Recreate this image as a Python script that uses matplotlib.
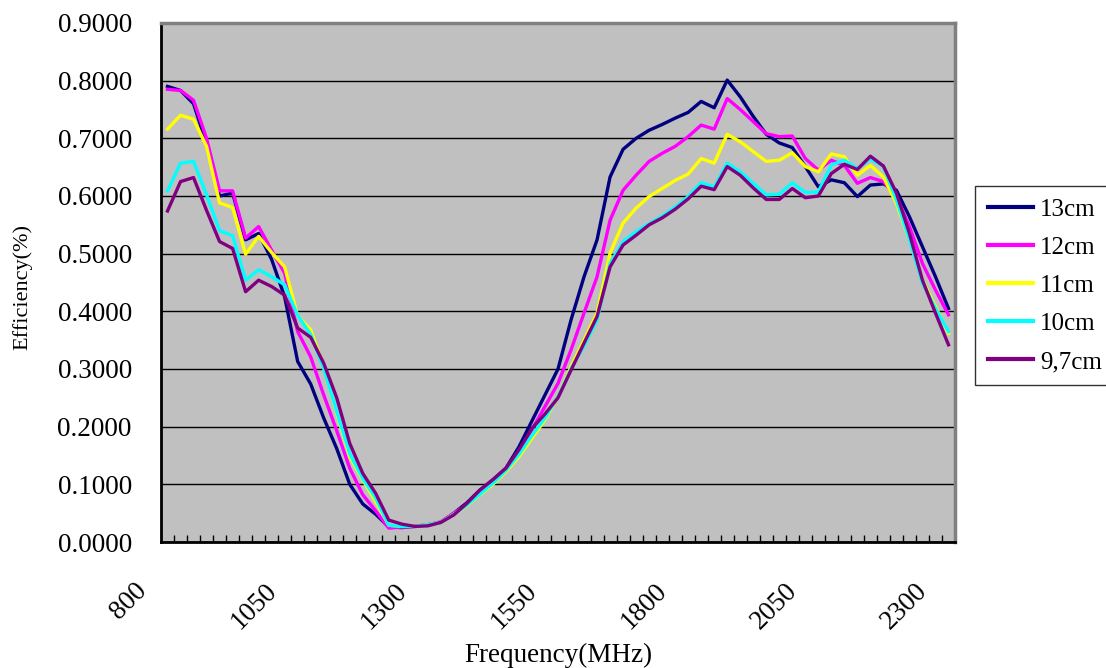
import matplotlib
matplotlib.use("Agg")
import matplotlib.pyplot as plt
import matplotlib.transforms as mtransforms
import numpy as np

plt.rcParams['font.family'] = ['Liberation Serif', 'DejaVu Serif']

# frequency categories (MHz), one every 25 MHz
freq = list(range(800, 2301, 25))
tick_freq = [800, 1050, 1300, 1550, 1800, 2050, 2300]

eff_13 = [0.790, 0.783, 0.760, 0.690, 0.600, 0.605, 0.524, 0.535, 0.490, 0.425,
          0.313, 0.274, 0.215, 0.162, 0.100, 0.066, 0.048, 0.026, 0.025, 0.027,
          0.030, 0.034, 0.050, 0.068, 0.090, 0.108, 0.128, 0.165, 0.210, 0.255,
          0.300, 0.385, 0.460, 0.524, 0.633, 0.681, 0.700, 0.714, 0.724, 0.735,
          0.745, 0.764, 0.753, 0.801, 0.772, 0.738, 0.707, 0.692, 0.684, 0.651,
          0.616, 0.628, 0.623, 0.599, 0.619, 0.621, 0.610, 0.564, 0.512, 0.460, 0.405]
eff_12 = [0.785, 0.783, 0.766, 0.700, 0.609, 0.609, 0.527, 0.547, 0.506, 0.466,
          0.365, 0.321, 0.255, 0.193, 0.128, 0.082, 0.054, 0.024, 0.026, 0.027,
          0.030, 0.035, 0.050, 0.065, 0.085, 0.105, 0.125, 0.155, 0.195, 0.235,
          0.275, 0.333, 0.397, 0.460, 0.558, 0.610, 0.636, 0.660, 0.674, 0.686,
          0.703, 0.723, 0.716, 0.769, 0.750, 0.729, 0.708, 0.703, 0.704, 0.665,
          0.645, 0.662, 0.653, 0.622, 0.632, 0.625, 0.598, 0.547, 0.483, 0.437, 0.394]
eff_11 = [0.716, 0.740, 0.733, 0.686, 0.588, 0.580, 0.499, 0.530, 0.502, 0.477,
          0.392, 0.368, 0.304, 0.223, 0.148, 0.108, 0.070, 0.029, 0.027, 0.027,
          0.030, 0.034, 0.048, 0.063, 0.082, 0.100, 0.122, 0.148, 0.180, 0.212,
          0.252, 0.304, 0.350, 0.397, 0.501, 0.553, 0.579, 0.599, 0.613, 0.627,
          0.638, 0.665, 0.657, 0.707, 0.694, 0.677, 0.660, 0.662, 0.675, 0.651,
          0.642, 0.673, 0.668, 0.636, 0.653, 0.633, 0.587, 0.524, 0.454, 0.408, 0.362]
eff_10 = [0.609, 0.657, 0.660, 0.602, 0.540, 0.531, 0.454, 0.472, 0.460, 0.446,
          0.393, 0.360, 0.301, 0.226, 0.153, 0.110, 0.076, 0.029, 0.027, 0.027,
          0.030, 0.034, 0.048, 0.064, 0.083, 0.102, 0.124, 0.152, 0.185, 0.215,
          0.252, 0.300, 0.340, 0.385, 0.483, 0.521, 0.538, 0.552, 0.565, 0.581,
          0.599, 0.623, 0.616, 0.657, 0.642, 0.622, 0.602, 0.603, 0.623, 0.606,
          0.607, 0.654, 0.662, 0.648, 0.664, 0.651, 0.593, 0.524, 0.449, 0.405, 0.365]
eff_97 = [0.574, 0.625, 0.632, 0.575, 0.521, 0.509, 0.434, 0.454, 0.443, 0.428,
          0.371, 0.355, 0.310, 0.250, 0.171, 0.119, 0.084, 0.038, 0.031, 0.027,
          0.028, 0.034, 0.047, 0.067, 0.090, 0.108, 0.128, 0.160, 0.197, 0.222,
          0.250, 0.298, 0.345, 0.391, 0.477, 0.515, 0.532, 0.550, 0.562, 0.577,
          0.595, 0.617, 0.611, 0.651, 0.636, 0.614, 0.594, 0.594, 0.613, 0.597,
          0.600, 0.639, 0.655, 0.646, 0.669, 0.652, 0.605, 0.535, 0.454, 0.397, 0.342]

names = ['13cm', '12cm', '11cm', '10cm', '9,7cm']
colors = ['#000080', '#FF00FF', '#FFFF00', '#00FFFF', '#800080']
series = [eff_13, eff_12, eff_11, eff_10, eff_97]

fig = plt.figure(figsize=(11.06, 6.68), dpi=100)
ax = fig.add_axes([161 / 1106, 1 - 542 / 668, 794 / 1106, 519 / 668])
ax.set_facecolor('#C0C0C0')

for vals, name, c in zip(series, names, colors):
    ax.plot(freq, vals, color=c, lw=2.4, label=name, zorder=3)

ax.set_xlim(787.5, 2312.5)
ax.set_ylim(0, 0.9)
ax.set_yticks(np.arange(0, 0.91, 0.1))
ax.set_yticklabels(['%.4f' % v for v in np.arange(0, 0.91, 0.1)], fontsize=19.5)
ax.grid(axis='y', color='black', lw=1)
ax.set_axisbelow(True)

ax.set_xticks(tick_freq)
ax.set_xticklabels([str(f) for f in tick_freq], fontsize=19.5, rotation=45,
                   ha='right', va='top')
ax.set_xticks(np.arange(812.5, 2300, 25), minor=True)
ax.tick_params(axis='x', which='major', length=0, pad=26)
ax.tick_params(axis='x', which='minor', direction='in', length=5, width=1, color='black')
ax.tick_params(axis='y', length=0, pad=21)

offset = mtransforms.ScaledTranslation(-0.16, 0, fig.dpi_scale_trans)
for lab in ax.get_xticklabels():
    lab.set_transform(lab.get_transform() + offset)

for s in ['left', 'bottom']:
    ax.spines[s].set_color('black')
    ax.spines[s].set_linewidth(2)
for s in ['top', 'right']:
    ax.spines[s].set_color('#808080')
    ax.spines[s].set_linewidth(2.5)

fig.text(558 / 1106, 1 - 655 / 668, 'Frequency(MHz)', fontsize=19.5, ha='center', va='center')
fig.text(22 / 1106, 1 - 287 / 668, 'Efficiency(%)', fontsize=16, rotation=90,
         ha='center', va='center')

leg = fig.legend(loc='upper left', bbox_to_anchor=(975 / 1106, 1 - 186 / 668),
                 fontsize=18, frameon=True, fancybox=False, handlelength=1.8,
                 handletextpad=0.3, labelspacing=0.62, borderpad=0.5,
                 borderaxespad=0)
leg.get_frame().set_edgecolor('black')
leg.get_frame().set_linewidth(1)
for line in leg.get_lines():
    line.set_linewidth(3)

fig.savefig('out.png', dpi=100)
